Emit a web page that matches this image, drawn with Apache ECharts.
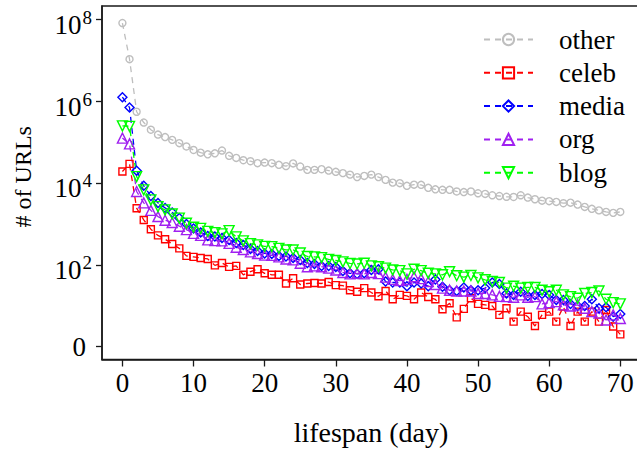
<!DOCTYPE html>
<html><head><meta charset="utf-8">
<script src="https://cdn.jsdelivr.net/npm/echarts@6/dist/echarts.min.js"></script>
<style>html,body{margin:0;padding:0;background:#fff}#c{width:637px;height:451px}</style>
</head><body><div id="c"></div><script>
const days = [0,1,2,3,4,5,6,7,8,9,10,11,12,13,14,15,16,17,18,19,20,21,22,23,24,25,26,27,28,29,30,31,32,33,34,35,36,37,38,39,40,41,42,43,44,45,46,47,48,49,50,51,52,53,54,55,56,57,58,59,60,61,62,63,64,65,66,67,68,69,70];
const other = [8.1e7,1.06e7,5.5e5,3.0e5,2.0e5,1.52e5,1.32e5,1.13e5,9.4e4,7.8e4,
  6.4e4,5.5e4,5.0e4,5.3e4,6.2e4,4.6e4,4.1e4,3.6e4,3.4e4,3.05e4,
  3.15e4,3.05e4,2.77e4,2.58e4,3.0e4,2.52e4,2.09e4,2.09e4,2.17e4,2.01e4,
  1.87e4,1.74e4,1.6e4,1.39e4,1.49e4,1.6e4,1.39e4,1.19e4,1.02e4,9.9e3,
  8.5e3,9.1e3,9.0e3,7.6e3,7.0e3,6.8e3,6.8e3,6.2e3,6.0e3,6.2e3,
  5.6e3,5.4e3,5.0e3,4.8e3,4.6e3,4.55e3,5.0e3,4.4e3,4.0e3,3.7e3,
  3.6e3,3.45e3,3.2e3,3.3e3,2.97e3,2.6e3,2.33e3,2.14e3,1.96e3,1.86e3,1.96e3];
const celeb = [1.9e4,2.93e4,2.42e3,1.25e3,742,523,423,324,252,165,
  156,147,139,97,111,89,94,57,68,78,
  62,57,57,35,47,33,35,36,35,38,
  32,31,24,22,27,21,17,23,14.4,18.4,
  17.4,14.4,21,16.4,14.4,8.2,11.5,5.2,8.4,15.3,
  11.1,10.5,9.9,6.0,8.7,4.1,7.2,5.4,3.2,6.0,
  7.2,4.1,9.5,3.2,7.2,4.1,7.2,4.1,7.9,3.1,2.0];
const media = [1.25e6,6.98e5,2.0e4,8.5e3,4.8e3,3.26e3,2.46e3,1.91e3,1.40e3,1.0e3,
  776,620,509,494,455,406,343,307,245,219,
  190,185,165,160,147,132,111,105,94,94,
  89,71,62,60,62,75,78,39,37,37,
  30,37,35,30,44,29,24,23,28,24,
  24,27,37,34,20,18.4,22,17.4,18.4,19.4,
  18.4,13.9,13.9,11.1,9.9,9.9,14.4,8.7,9.2,5.4,6.3];
const org = [1.25e5,9.0e4,6.2e3,3.26e3,2.14e3,1.51e3,1.23e3,1.08e3,879,726,
  586,523,406,391,384,334,269,237,207,189,
  173,170,156,139,132,109,90,94,90,83,
  75,65,60,62,60,65,61,50,44,41,
  44,51,46,39,33,27,24,23,23,23,
  20,20,18.4,16.9,16.7,16.1,18.4,16.1,16.7,11.1,
  11.9,12.6,10.5,9.9,10.5,8.7,7.2,6.6,4.5,6.0,4.9];
const blog = [2.49e5,2.42e5,1.43e4,6.8e3,3.86e3,2.65e3,2.2e3,1.75e3,1.38e3,1.04e3,
  830,776,656,613,569,686,481,384,330,307,
  282,279,252,231,231,195,160,156,150,136,
  128,118,108,105,109,94,90,83,75,72,
  60,78,72,62,60,57,68,54,50,55,
  48,43,39,37,27,30,27,28,28,24,
  22,24,18.4,16.7,15.3,20,21,23,14.4,11.9,11.1];
const seriesNames = ['other','celeb','media','org','blog'];
const xTicks = [0,10,20,30,40,50,60,70];
const xTickLabels = ['0','10','20','30','40','50','60','70'];
const yTicks = [1,1e2,1e4,1e6,1e8];
const yTickLabels = ['0','10^2','10^4','10^6','10^8'];

const FONT = 'Liberation Serif';
const INK = '#1a1a1a';
const styles = {
  other: {color:'#bebebe', symbol:'circle', size:7, rotate:0},
  celeb: {color:'#ff0000', symbol:'rect', size:7, rotate:0},
  media: {color:'#0000ff', symbol:'diamond', size:9, rotate:0},
  org:   {color:'#a020f0', symbol:'triangle', size:10, rotate:0},
  blog:  {color:'#00ff00', symbol:'triangle', size:10, rotate:180}
};
const values = {other, celeb, media, org, blog};

function yLabel(v) {
  let idx = -1;
  for (let i = 0; i < yTicks.length; i++) {
    if (Math.abs(Math.log10(v) - Math.log10(yTicks[i])) < 1e-6) idx = i;
  }
  if (idx < 0) return '';
  const t = yTickLabels[idx];
  if (t.indexOf('^') < 0) return '{z|' + t + '}';
  const p = t.split('^');
  return '{b|' + p[0] + '}{s|' + p[1] + '}';
}

const chart = echarts.init(document.getElementById('c'), null, {renderer:'svg'});
chart.setOption({
  animation:false,
  backgroundColor:'#ffffff',
  textStyle:{fontFamily:FONT},
  grid:{left:102, top:6, right:-3, bottom:91.5, show:true, borderColor:INK, borderWidth:1.5,
        containLabel:false, outerBoundsMode:'none'},
  xAxis:{
    type:'value', min:-2.87, max:72.77,
    splitLine:{show:false},
    axisLine:{show:true, onZero:false, lineStyle:{color:INK, width:1.5}},
    axisTick:{show:true, length:7, lineStyle:{color:INK, width:1.3}, customValues:xTicks},
    axisLabel:{customValues:xTicks, margin:10, fontSize:27, fontFamily:FONT, color:'#000',
      formatter:function(v){const i = xTicks.indexOf(v); return i < 0 ? '' : xTickLabels[i];}},
    name:'lifespan (day)', nameLocation:'middle', nameGap:59,
    nameTextStyle:{fontSize:28, fontFamily:FONT, color:'#000'}
  },
  yAxis:{
    type:'log', logBase:10, min:0.486, max:2.11e8,
    splitLine:{show:false},
    axisLine:{show:true, onZero:false, lineStyle:{color:INK, width:1.5}},
    axisTick:{show:true, length:6, lineStyle:{color:INK, width:1.3}, customValues:yTicks},
    axisLabel:{customValues:yTicks, margin:10, color:'#000', formatter:yLabel,
      rich:{
        b:{fontSize:27, fontFamily:FONT, color:'#000', lineHeight:27, padding:[5.5,0,0,0], verticalAlign:'top'},
        s:{fontSize:19, fontFamily:FONT, color:'#000', lineHeight:19, padding:[2,0,0,1], verticalAlign:'top'},
        z:{fontSize:27, fontFamily:FONT, color:'#000', lineHeight:27, padding:[0,6,0,0]}
      }},
    name:'# of URLs', nameLocation:'middle', nameRotate:90, nameGap:67,
    nameTextStyle:{fontSize:24, fontFamily:FONT, color:'#000', padding:[0,0,0,12]}
  },
  legend:{
    orient:'vertical', left:483, top:26, padding:0,
    itemWidth:49, itemHeight:14, itemGap:6.3,
    data:seriesNames,
    textStyle:{fontSize:27, fontFamily:FONT, color:'#000', padding:[0,0,0,21]}
  },
  series: seriesNames.map(function(n){
    const st = styles[n];
    return {
      name:n, type:'line',
      data: days.map(function(d, i){ return [d, values[n][i]]; }),
      symbol:st.symbol, symbolSize:st.size, symbolRotate:st.rotate, showAllSymbol:true,
      lineStyle:{color:st.color, width:1.3, type:[6,5]},
      itemStyle:{color:'rgba(255,255,255,0)', borderColor:st.color, borderWidth:1.4},
      emphasis:{disabled:true}
    };
  })
});
</script></body></html>
